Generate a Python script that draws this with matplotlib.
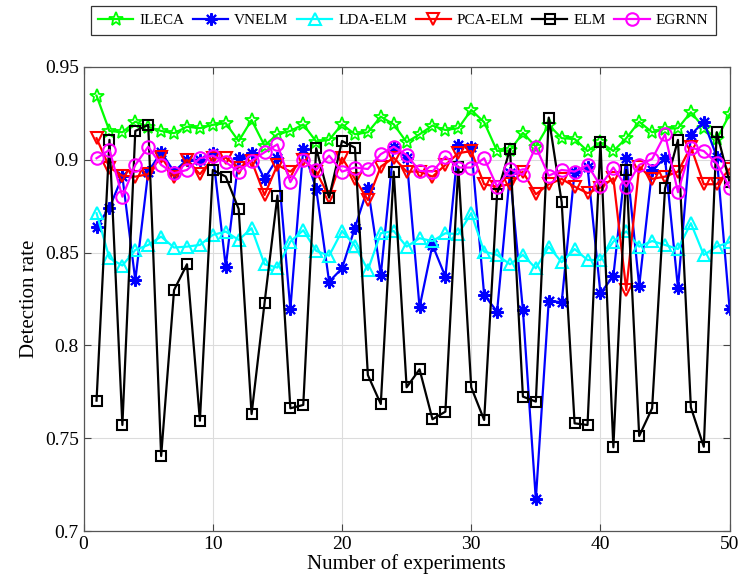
import matplotlib.pyplot as plt
import numpy as np
from matplotlib.ticker import FuncFormatter

plt.rcParams['font.family'] = ['Liberation Serif', 'DejaVu Serif']

runs = np.arange(1, 51)

ileca = [0.9345, 0.9155, 0.9148, 0.9205, 0.9178, 0.9155, 0.9143, 0.9178, 0.917, 0.9188,
         0.9197, 0.910, 0.9214, 0.9076, 0.9137, 0.9155, 0.919, 0.9098, 0.9107, 0.9191,
         0.9137, 0.9148, 0.9232, 0.9191, 0.9094, 0.9137, 0.9184, 0.916, 0.917, 0.9268,
         0.9202, 0.9047, 0.905, 0.9145, 0.907, 0.9188, 0.9116, 0.9112, 0.9047, 0.9094,
         0.9047, 0.9116, 0.9205, 0.9148, 0.9166, 0.917, 0.9256, 0.9173, 0.911, 0.9245]
vnelm = [0.864, 0.8742, 0.891, 0.835, 0.8936, 0.904, 0.8936, 0.9, 0.9, 0.9035,
         0.8424, 0.9008, 0.9035, 0.8897, 0.9008, 0.8195, 0.906, 0.8843, 0.8343, 0.8415,
         0.8634, 0.885, 0.838, 0.907, 0.9008, 0.8205, 0.8541, 0.837, 0.908, 0.907,
         0.8272, 0.8182, 0.8927, 0.819, 0.717, 0.8241, 0.8232, 0.8936, 0.8963, 0.828,
         0.8374, 0.9011, 0.832, 0.8945, 0.9008, 0.8308, 0.9134, 0.9205, 0.9017, 0.8195]
lda_elm = [0.8712, 0.847, 0.843, 0.8514, 0.8541, 0.8586, 0.8527, 0.8532, 0.8541, 0.8595,
           0.8613, 0.8568, 0.8631, 0.8437, 0.8419, 0.8559, 0.862, 0.8509, 0.8483, 0.8616,
           0.8537, 0.8406, 0.8604, 0.8616, 0.8532, 0.8577, 0.8562, 0.8604, 0.8599, 0.8712,
           0.8505, 0.8487, 0.8437, 0.8487, 0.8415, 0.8532, 0.8448, 0.8519, 0.846, 0.846,
           0.8559, 0.8614, 0.8532, 0.8562, 0.8541, 0.8519, 0.8658, 0.8487, 0.8532, 0.8556]
pca_elm = [0.9116, 0.8958, 0.8914, 0.8909, 0.8922, 0.9017, 0.8909, 0.9, 0.8922, 0.9008,
           0.9011, 0.8958, 0.8994, 0.881, 0.8972, 0.8936, 0.9, 0.8936, 0.8801, 0.9011,
           0.8897, 0.8783, 0.8963, 0.9011, 0.8936, 0.8936, 0.8909, 0.8972, 0.9035, 0.9047,
           0.8868, 0.8855, 0.8868, 0.8936, 0.8814, 0.8868, 0.8897, 0.8855, 0.882, 0.885,
           0.89, 0.8298, 0.8963, 0.8897, 0.8909, 0.8936, 0.907, 0.8868, 0.8868, 0.895]
elm = [0.7702, 0.9107, 0.7571, 0.9155, 0.9188, 0.7404, 0.8298, 0.8437, 0.7594, 0.8945,
       0.8909, 0.8735, 0.763, 0.8227, 0.8807, 0.7661, 0.7679, 0.9062, 0.8796, 0.9101,
       0.9065, 0.784, 0.7684, 0.8936, 0.7774, 0.7871, 0.7602, 0.7643, 0.8963, 0.7774,
       0.7598, 0.8814, 0.9058, 0.7724, 0.7697, 0.9227, 0.8771, 0.758, 0.7571, 0.9094,
       0.7451, 0.8945, 0.7512, 0.7661, 0.8846, 0.9107, 0.7666, 0.7454, 0.9148, 0.8879]
egrnn = [0.9008, 0.9053, 0.8801, 0.8972, 0.907, 0.8972, 0.8927, 0.8945, 0.9008, 0.9022,
         0.8987, 0.8936, 0.8994, 0.904, 0.9083, 0.8879, 0.9, 0.8945, 0.9022, 0.8936,
         0.8958, 0.895, 0.903, 0.907, 0.9026, 0.894, 0.8936, 0.9017, 0.8958, 0.8958,
         0.9008, 0.8855, 0.895, 0.8918, 0.907, 0.8914, 0.8945, 0.8936, 0.8972, 0.886,
         0.8958, 0.8855, 0.8972, 0.9004, 0.9137, 0.8825, 0.9065, 0.9047, 0.8981, 0.885]

fig = plt.figure(figsize=(7.4, 5.87), dpi=100)
ax = fig.add_axes([0.113, 0.0954, 0.873, 0.7906])

lw = 1.6
ax.plot(runs, ileca, color='#00ff00', marker='*', ms=10, mfc='none', mew=1.3, lw=lw, label='ILECA')
ax.plot(runs, vnelm, color='#0000ff', marker=(8, 2, 0), ms=9, mew=1.5, lw=lw, label='VNELM')
ax.plot(runs, lda_elm, color='#00ffff', marker='^', ms=9, mfc='none', mew=1.5, lw=lw, label='LDA-ELM')
ax.plot(runs, pca_elm, color='#ff0000', marker='v', ms=9, mfc='none', mew=1.5, lw=lw, label='PCA-ELM')
ax.plot(runs, elm, color='black', marker='s', ms=7, mfc='none', mew=1.5, lw=lw, label='ELM')
ax.plot(runs, egrnn, color='#ff00ff', marker='o', ms=9, mfc='none', mew=1.5, lw=lw, label='EGRNN')

ax.set_xlim(0, 50)
ax.set_ylim(0.7, 0.95)
ax.set_xticks([0, 10, 20, 30, 40, 50])
ax.set_yticks([0.7, 0.75, 0.8, 0.85, 0.9, 0.95])
ax.yaxis.set_major_formatter(FuncFormatter(lambda v, p: '%g' % round(v, 2)))
ax.grid(True, color='#dcdcdc', lw=0.8)
ax.set_axisbelow(True)
ax.tick_params(direction='in', top=True, right=True, labelsize=14, length=5, color='#444444')
for s in ax.spines.values():
    s.set_color('#555555')
    s.set_linewidth(0.9)

ax.set_xlabel('Number of experiments', fontsize=15, labelpad=1)
ax.set_ylabel('Detection rate', fontsize=15)

leg = fig.legend(loc='upper center', bbox_to_anchor=(0.545, 0.99), ncol=6, fontsize=11,
                 frameon=True, fancybox=False, edgecolor='black', handlelength=2.3,
                 columnspacing=0.55, handletextpad=0.4, borderpad=0.5, borderaxespad=0)
leg.get_frame().set_linewidth(0.9)

fig.savefig('out.png', dpi=100)
